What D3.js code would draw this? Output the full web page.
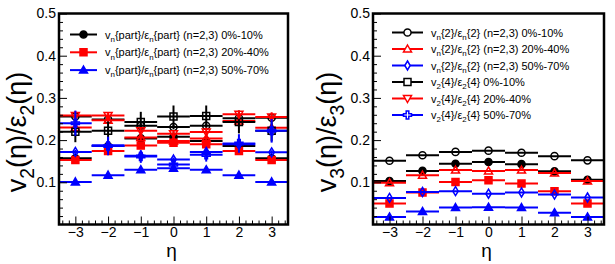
<!DOCTYPE html>
<html>
<head>
<meta charset="utf-8">
<script src="https://cdn.jsdelivr.net/npm/d3@7/dist/d3.min.js"></script>
<style>
  body { margin: 0; background: #fff; }
  svg { display: block; font-family: "Liberation Sans", Arial, Helvetica, sans-serif; }
</style>
</head>
<body>
<div id="chart"></div>
<script>
const etaBins = [-3, -2, -1, 0, 1, 2, 3];
const xTickLabels = ['\u22123', '\u22122', '\u22121', '0', '1', '2', '3'];
const yTickValues = [0.1, 0.2, 0.3, 0.4, 0.5];

// left panel, v2/eps2
const v2PartCent = [0.157, 0.186, 0.204, 0.208, 0.198, 0.186, 0.157];
const v2PartMid = [0.153, 0.174, 0.187, 0.194, 0.190, 0.174, 0.153];
const v2PartPeri = [0.101, 0.117, 0.130, 0.133, 0.130, 0.117, 0.101];
const v2TwoCent = [0.256, 0.249, 0.234, 0.231, 0.234, 0.252, 0.253];
const v2TwoCentErr = [0.006, 0.005, 0.005, 0.005, 0.005, 0.006, 0.006];
const v2TwoMid = [0.230, 0.247, 0.206, 0.198, 0.204, 0.245, 0.229];
const v2TwoMidErr = [0.007, 0.006, 0.006, 0.006, 0.006, 0.006, 0.007];
const v2TwoPeri = [0.172, 0.188, 0.163, 0.154, 0.172, 0.190, 0.171];
const v2TwoPeriErr = [0.005, 0.005, 0.005, 0.005, 0.005, 0.005, 0.005];
const v2FourCent = [0.220, 0.222, 0.243, 0.256, 0.257, 0.243, 0.222];
const v2FourCentErr = [0.025, 0.022, 0.024, 0.026, 0.025, 0.027, 0.025];
const v2FourMid = [0.258, 0.258, 0.222, 0.215, 0.219, 0.261, 0.255];
const v2FourMidErr = [0.011, 0.008, 0.009, 0.008, 0.010, 0.009, 0.011];
const v2FourPeri = [0.240, 0.186, 0.161, 0.142, 0.165, 0.192, 0.222];
const v2FourPeriErr = [0.030, 0.022, 0.015, 0.012, 0.016, 0.022, 0.028];

// right panel, v3/eps3
const v3PartCent = [0.103, 0.127, 0.144, 0.148, 0.143, 0.126, 0.106];
const v3PartMid = [0.050, 0.076, 0.101, 0.105, 0.097, 0.079, 0.050];
const v3PartPeri = [0.018, 0.031, 0.040, 0.041, 0.040, 0.028, 0.018];
const v3TwoCent = [0.151, 0.164, 0.172, 0.175, 0.170, 0.162, 0.152];
const v3TwoMid = [0.099, 0.117, 0.129, 0.127, 0.129, 0.122, 0.103];
const v3TwoPeri = [0.063, 0.077, 0.079, 0.073, 0.076, 0.071, 0.064];

const leftLegendLabels = [
  'v_n{part}/\u03b5_n{part} (n=2,3) 0%-10%',
  'v_n{part}/\u03b5_n{part} (n=2,3) 20%-40%',
  'v_n{part}/\u03b5_n{part} (n=2,3) 50%-70%'
];
const rightLegendLabels = [
  'v_n{2}/\u03b5_n{2} (n=2,3) 0%-10%',
  'v_n{2}/\u03b5_n{2} (n=2,3) 20%-40%',
  'v_n{2}/\u03b5_n{2} (n=2,3) 50%-70%',
  'v_2{4}/\u03b5_2{4} 0%-10%',
  'v_2{4}/\u03b5_2{4} 20%-40%',
  'v_2{4}/\u03b5_2{4} 50%-70%'
];

const BLACK = '#000000';
const RED = '#ff0000';
const BLUE = '#0000ff';

// marker outlines, centred on 0,0
const shapes = {
  circle: d3.symbol(d3.symbolCircle, 40)(),
  square: 'M-3.5,-3.5h7v7h-7Z',
  triangle: 'M0,-4L4,3L-4,3Z',
  triangleDown: 'M0,4L4,-3L-4,-3Z',
  diamond: 'M0,-4.5L2.7,0L0,4.5L-2.7,0Z',
  cross: 'M-1.3,-4h2.6v2.7h2.7v2.6h-2.7v2.7h-2.6v-2.7h-2.7v-2.6h2.7Z'
};

// writes "a_bc" as a, subscript b, c
function richText(textSel, str, size) {
  const parts = str.split(/_(.)/);
  const shift = size * 0.3;
  let back = false;
  parts.forEach((p, i) => {
    if (p === '') return;
    const t = textSel.append('tspan').text(p);
    if (i % 2 === 1) {
      t.attr('font-size', size * 0.72).attr('dy', shift);
      back = true;
    } else if (back) {
      t.attr('dy', -shift);
      back = false;
    }
  });
}

class RatioPanel {
  constructor(svg, left, right) {
    this.svg = svg;
    this.top = 13.5;
    this.bottom = 224.5;
    this.left = left;
    this.right = right;
    this.x = d3.scaleLinear().domain([-3.5, 3.5]).range([left, right]);
    this.y = d3.scaleLinear().domain([0, 0.5]).range([this.bottom, this.top]);
    this.g = svg.append('g');
  }

  drawAxes(title, titleX) {
    const minorY = d3.range(0.02, 0.5, 0.02).filter(v => Math.abs(v * 10 - Math.round(v * 10)) > 1e-6);
    const minorX = d3.range(-3.4, 3.41, 0.2).filter(v => Math.abs(v - Math.round(v)) > 1e-6);

    const yAxis = this.g.append('g')
      .attr('transform', `translate(${this.left},0)`)
      .call(d3.axisLeft(this.y).tickValues(yTickValues).tickSize(-8).tickPadding(3).tickFormat(d3.format('.1f')));
    this.g.append('g')
      .attr('transform', `translate(${this.left},0)`)
      .call(d3.axisLeft(this.y).tickValues(minorY).tickSize(-4).tickFormat(''));

    const xAxis = this.g.append('g')
      .attr('transform', `translate(0,${this.bottom})`)
      .call(d3.axisBottom(this.x).tickValues(etaBins).tickSize(-8).tickPadding(3).tickFormat((d, i) => xTickLabels[i]));
    this.g.append('g')
      .attr('transform', `translate(0,${this.bottom})`)
      .call(d3.axisBottom(this.x).tickValues(minorX).tickSize(-4).tickFormat(''));

    this.g.selectAll('.domain').remove();
    this.g.selectAll('.tick line').attr('stroke', BLACK).attr('stroke-width', 1);
    yAxis.selectAll('text').attr('font-size', 14).attr('font-family', null).attr('fill', BLACK);
    xAxis.selectAll('text').attr('font-size', 14).attr('font-family', null).attr('fill', BLACK);

    // axis titles
    const yt = this.g.append('text')
      .attr('transform', `translate(${titleX},132) rotate(-90)`)
      .attr('text-anchor', 'middle')
      .attr('font-size', 27);
    richText(yt, title, 27);

    this.g.append('text')
      .attr('x', this.x(0) - 2)
      .attr('y', 257)
      .attr('text-anchor', 'middle')
      .attr('font-size', 19)
      .text('\u03b7');
  }

  drawFrame() {
    this.g.append('rect')
      .attr('x', this.left)
      .attr('y', this.top)
      .attr('width', this.right - this.left)
      .attr('height', this.bottom - this.top)
      .attr('fill', 'none')
      .attr('stroke', BLACK)
      .attr('stroke-width', 2.5);
  }

  drawSeries(s) {
    const g = this.g.append('g');
    const pts = etaBins.map((eta, i) => ({ eta, v: s.values[i], e: s.errors ? s.errors[i] : 0 }));

    g.selectAll('line.h')
      .data(pts)
      .enter()
      .append('line')
      .attr('x1', d => this.x(d.eta - 0.5))
      .attr('x2', d => this.x(d.eta + 0.5))
      .attr('y1', d => this.y(d.v))
      .attr('y2', d => this.y(d.v))
      .attr('stroke', s.color)
      .attr('stroke-width', 2);

    g.selectAll('line.v')
      .data(pts.filter(d => d.e > 0))
      .enter()
      .append('line')
      .attr('x1', d => this.x(d.eta))
      .attr('x2', d => this.x(d.eta))
      .attr('y1', d => this.y(d.v - d.e))
      .attr('y2', d => this.y(d.v + d.e))
      .attr('stroke', s.color)
      .attr('stroke-width', 2);

    g.selectAll('path')
      .data(pts)
      .enter()
      .append('path')
      .attr('d', shapes[s.shape])
      .attr('transform', d => `translate(${this.x(d.eta)},${this.y(d.v)})`)
      .attr('fill', s.filled ? s.color : 'none')
      .attr('stroke', s.color)
      .attr('stroke-width', 1.5);
  }

  drawLegend(series, labels, pos) {
    const g = this.g.append('g');
    series.forEach((s, i) => {
      const cy = pos.y + i * pos.step;
      g.append('line')
        .attr('x1', pos.x1).attr('x2', pos.x2)
        .attr('y1', cy).attr('y2', cy)
        .attr('stroke', s.color).attr('stroke-width', 2);
      g.append('path')
        .attr('d', shapes[s.shape])
        .attr('transform', `translate(${(pos.x1 + pos.x2) / 2},${cy})`)
        .attr('fill', s.filled ? s.color : '#fff')
        .attr('stroke', s.color)
        .attr('stroke-width', 1.5);
      const t = g.append('text')
        .attr('x', pos.tx)
        .attr('y', cy + 4)
        .attr('font-size', 11);
      richText(t, labels[i], 11);
    });
  }
}

const svg = d3.select('#chart')
  .append('svg')
  .attr('width', 615)
  .attr('height', 264);

// left panel
const leftPanel = new RatioPanel(svg, 59, 288);
const leftPart = [
  { values: v2PartCent, color: BLACK, shape: 'circle', filled: true },
  { values: v2PartMid, color: RED, shape: 'square', filled: true },
  { values: v2PartPeri, color: BLUE, shape: 'triangle', filled: true }
];
const leftOther = [
  { values: v2TwoCent, errors: v2TwoCentErr, color: BLACK, shape: 'circle', filled: false },
  { values: v2TwoMid, errors: v2TwoMidErr, color: RED, shape: 'triangle', filled: false },
  { values: v2TwoPeri, errors: v2TwoPeriErr, color: BLUE, shape: 'diamond', filled: false },
  { values: v2FourCent, errors: v2FourCentErr, color: BLACK, shape: 'square', filled: false },
  { values: v2FourMid, errors: v2FourMidErr, color: RED, shape: 'triangleDown', filled: false },
  { values: v2FourPeri, errors: v2FourPeriErr, color: BLUE, shape: 'cross', filled: false }
];
leftPart.concat(leftOther).forEach(s => leftPanel.drawSeries(s));
leftPanel.drawAxes('v_2(\u03b7)/\u03b5_2(\u03b7)', 26);
leftPanel.drawFrame();
leftPanel.drawLegend(leftPart, leftLegendLabels, { x1: 70, x2: 97, tx: 105, y: 34.5, step: 17.8 });

// right panel
const rightPanel = new RatioPanel(svg, 373, 604);
const rightSeries = [
  { values: v3PartCent, color: BLACK, shape: 'circle', filled: true },
  { values: v3PartMid, color: RED, shape: 'square', filled: true },
  { values: v3PartPeri, color: BLUE, shape: 'triangle', filled: true },
  { values: v3TwoCent, color: BLACK, shape: 'circle', filled: false },
  { values: v3TwoMid, color: RED, shape: 'triangle', filled: false },
  { values: v3TwoPeri, color: BLUE, shape: 'diamond', filled: false }
];
rightSeries.forEach(s => rightPanel.drawSeries(s));
rightPanel.drawAxes('v_3(\u03b7)/\u03b5_3(\u03b7)', 336);
rightPanel.drawFrame();
rightPanel.drawLegend(leftOther, rightLegendLabels, { x1: 392, x2: 423, tx: 431, y: 32.5, step: 16.5 });
</script>
</body>
</html>
